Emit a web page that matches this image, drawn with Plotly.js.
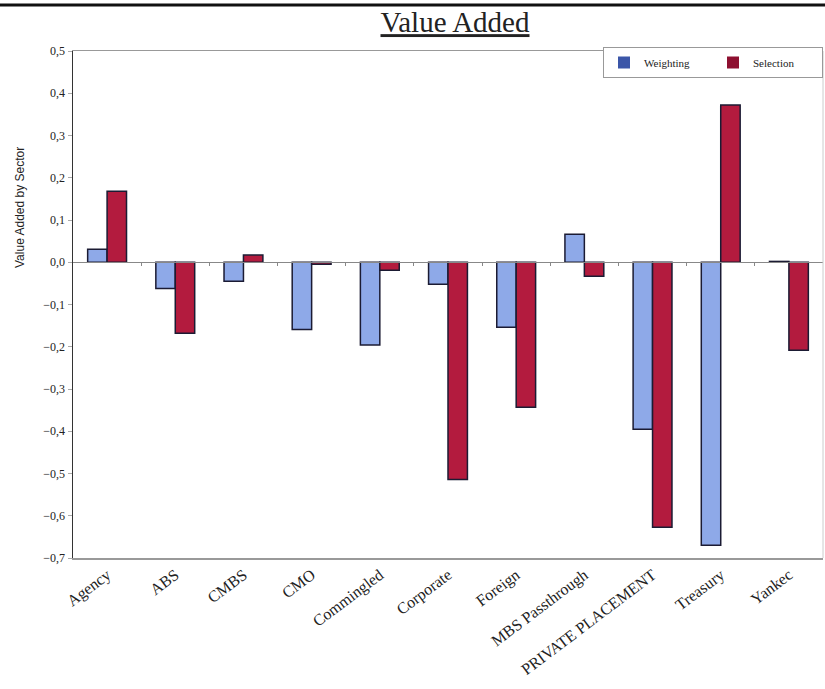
<!DOCTYPE html>
<html>
<head>
<meta charset="utf-8">
<script src="https://cdn.plot.ly/plotly-3.0.1.min.js"></script>
<style>html,body{margin:0;padding:0;background:#fff;}#chart{width:825px;height:689px;}</style>
</head>
<body>
<div id="chart"></div>
<script>
var categories = ["Agency", "ABS", "CMBS", "CMO", "Commingled", "Corporate", "Foreign", "MBS Passthrough", "PRIVATE PLACEMENT", "Treasury", "Yankec"];
var weighting = [0.031, -0.062, -0.045, -0.159, -0.196, -0.052, -0.154, 0.066, -0.395, -0.670, 0.002];
var selection = [0.168, -0.168, 0.017, -0.005, -0.019, -0.514, -0.343, -0.033, -0.627, 0.372, -0.208];
var yTicks = [0.5, 0.4, 0.3, 0.2, 0.1, 0.0, -0.1, -0.2, -0.3, -0.4, -0.5, -0.6, -0.7];

var serif = "Liberation Serif, Times New Roman, serif";
var sans = "Liberation Sans, Arial, sans-serif";

var traces = [
  {type: "bar", name: "Weighting", x: categories, y: weighting, showlegend: false,
   marker: {color: "#8EA9E8", line: {color: "#1b1b33", width: 1.5}}, hoverinfo: "skip"},
  {type: "bar", name: "Selection", x: categories, y: selection, showlegend: false,
   marker: {color: "#B31B3E", line: {color: "#1b1b33", width: 1.5}}, hoverinfo: "skip"},
  {type: "bar", name: "Weighting", x: [null], y: [null], xaxis: "x3", yaxis: "y3",
   marker: {color: "#3B56A8", line: {width: 0}}},
  {type: "bar", name: "Selection", x: [null], y: [null], xaxis: "x3", yaxis: "y3",
   marker: {color: "#8E1030", line: {width: 0}}},
  {type: "scatter", x: [null], y: [null], xaxis: "x2", yaxis: "y", showlegend: false, hoverinfo: "skip"}
];

var W = 825, H = 689, L = 73, R = 2, T = 51, B = 131;
var pw = W - L - R, ph = H - T - B;
var zeroFrac = (0 - yTicks[yTicks.length - 1]) / (yTicks[0] - yTicks[yTicks.length - 1]);
var boundaries = [];
for (var i = 0; i < categories.length - 1; i++) boundaries.push(i + 0.5);

var layout = {
  width: W, height: H,
  margin: {l: L, r: R, t: T, b: B},
  paper_bgcolor: "#fff", plot_bgcolor: "#fff",
  separators: ",.",
  font: {family: serif, color: "#222"},
  title: {text: "<u>Value Added</u>", font: {family: serif, size: 29, color: "#222"},
          x: 455 / W, xanchor: "center", xref: "container", yref: "container", y: 1 - 22 / H, yanchor: "middle"},
  barmode: "group", bargap: 0.43, bargroupgap: 0,
  showlegend: true,
  legend: {orientation: "h", x: 1, xanchor: "right", y: 1 + 4 / ph, yanchor: "top",
           bgcolor: "#fff", bordercolor: "#999", borderwidth: 1,
           font: {family: serif, size: 11, color: "#222"},
           entrywidth: 64, entrywidthmode: "pixels", traceorder: "normal", itemclick: false},
  xaxis: {type: "category", range: [-0.5, categories.length - 0.5], tickangle: -37,
          tickfont: {family: serif, size: 16, color: "#222"},
          showline: true, linecolor: "#999", linewidth: 1.5, mirror: true,
          ticks: "", showgrid: false, zeroline: false, fixedrange: true},
  xaxis2: {overlaying: "x", anchor: "free", position: zeroFrac, range: [-0.5, categories.length - 0.5],
           tickmode: "array", tickvals: boundaries, ticks: "outside", ticklen: 3, tickcolor: "#888",
           showticklabels: false, showline: true, linecolor: "#888", linewidth: 1, showgrid: false, zeroline: false},
  xaxis3: {domain: [0, 0.01], visible: false, anchor: "y3"},
  yaxis3: {domain: [0, 0.01], visible: false, anchor: "x3"},
  yaxis: {range: [yTicks[yTicks.length - 1], yTicks[0]], tickmode: "array", tickvals: yTicks,
          tickformat: ".1f", tickfont: {family: serif, size: 12, color: "#222"},
          ticks: "outside", ticklen: 4, tickcolor: "#aaa",
          showline: true, linecolor: "#333", linewidth: 1.5,
          showgrid: false, zeroline: false},
  annotations: [
    {text: "Value Added by Sector", xref: "paper", yref: "paper", x: (20 - L) / pw, y: 1 - (208 - T) / ph,
     xanchor: "center", yanchor: "middle", textangle: -90, showarrow: false,
     font: {family: sans, size: 12, color: "#222"}}
  ],
  shapes: [
    {type: "line", xref: "paper", yref: "paper", x0: -L / pw, x1: 1 + R / pw, y0: 1 + (T - 5) / ph, y1: 1 + (T - 5) / ph,
     line: {color: "#111", width: 3}},
    {type: "line", xref: "paper", yref: "paper", x0: 1, x1: 1, y0: 0, y1: 1, line: {color: "#ccc", width: 1}}
  ]
};

Plotly.newPlot("chart", traces, layout, {staticPlot: true, displayModeBar: false});
</script>
</body>
</html>
